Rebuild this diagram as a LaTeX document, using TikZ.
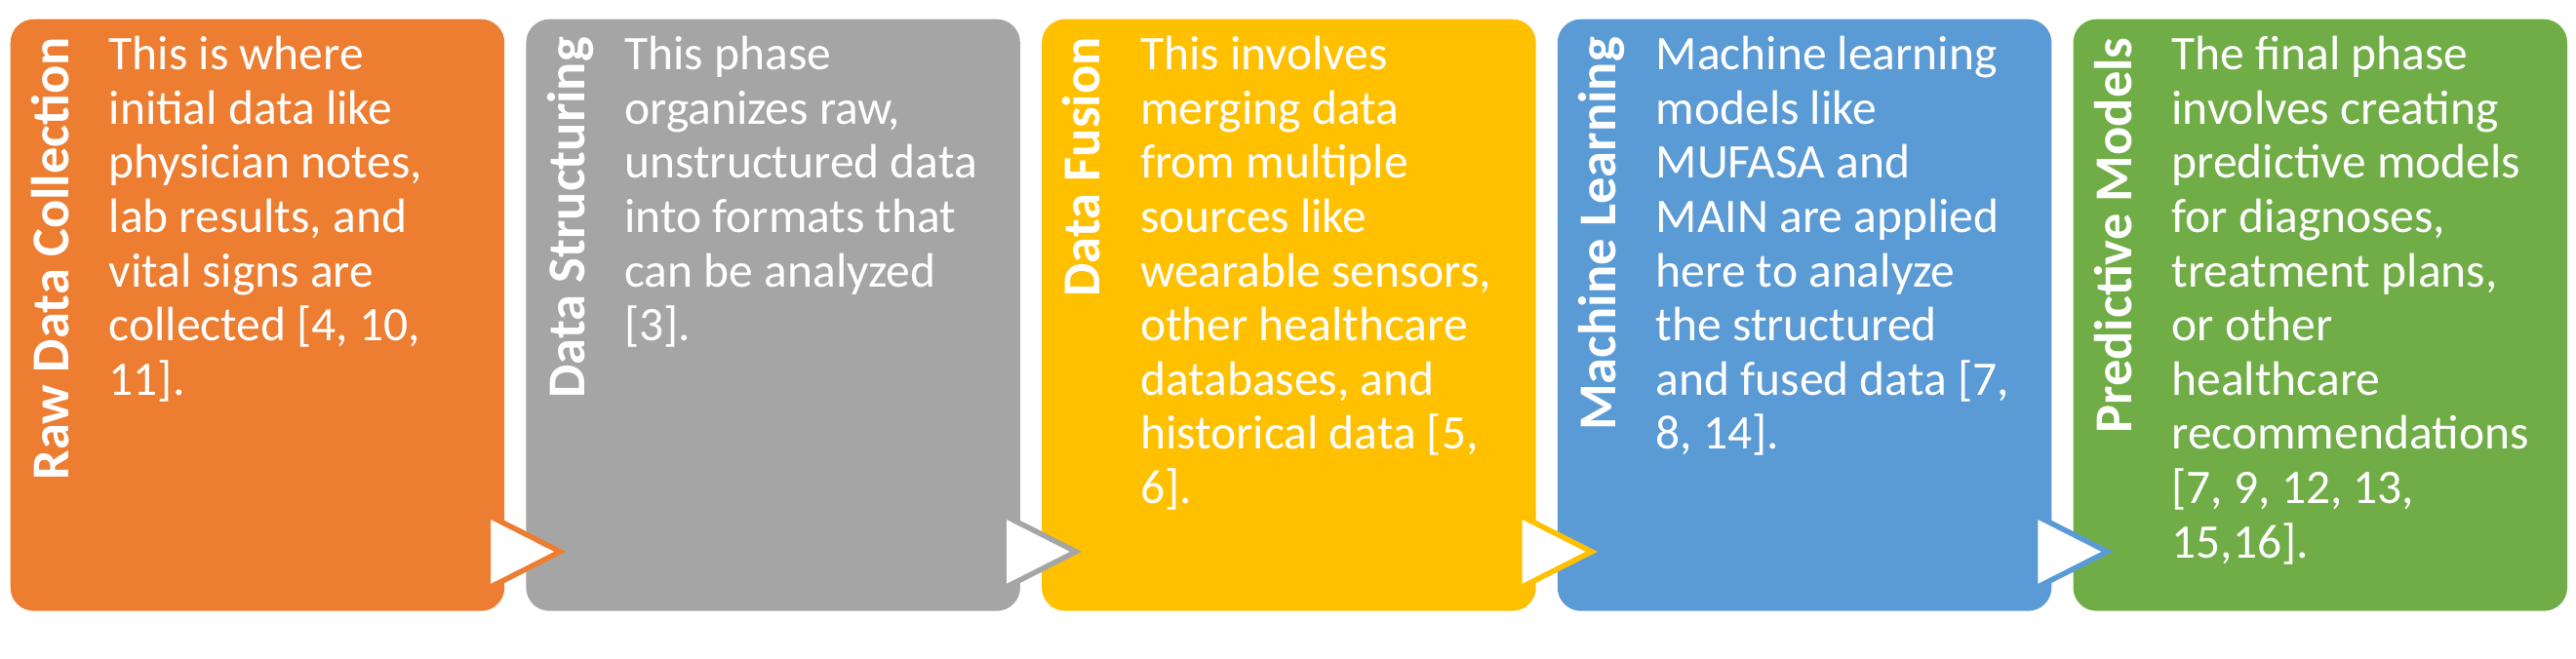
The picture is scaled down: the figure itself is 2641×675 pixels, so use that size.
\documentclass[tikz,border=0pt]{standalone}
\usepackage{fontspec}
\setmainfont{Carlito}
\definecolor{corange}{HTML}{ED7D31}
\definecolor{cgray}{HTML}{A5A5A5}
\definecolor{cyellow}{HTML}{FFC000}
\definecolor{cblue}{HTML}{5B9BD5}
\definecolor{cgreen}{HTML}{70AD47}
\tikzset{
  phasebox/.style={rounded corners=24pt, draw=none, inner sep=0pt, anchor=north west,
    minimum width=506.5pt, minimum height=607pt},
  phasetitle/.style={rotate=90, anchor=base east, inner sep=0pt, text=white,
    font=\fontsize{54.5}{60}\selectfont\bfseries},
  phasebody/.style={anchor=north west, inner sep=0pt, align=left, text=white,
    font=\fontsize{49.5}{55.6}\selectfont},
  arrowtri/.style={fill=white, line width=5.5pt, line join=miter}
}
\newcommand{\bstrut}{\rule{0pt}{40pt}}
\begin{document}
\begin{tikzpicture}[x=1pt,y=-1pt]
\useasboundingbox (0,0) rectangle (2641,675);
% boxes
\node[phasebox, fill=corange] (b1) at (10.5,19.5) {};
\node[phasebox, fill=cgray]   (b2) at (539.2,19.5) {};
\node[phasebox, fill=cyellow] (b3) at (1067.9,19.5) {};
\node[phasebox, fill=cblue]   (b4) at (1596.6,19.5) {};
\node[phasebox, fill=cgreen]  (b5) at (2125.3,19.5) {};
% titles
\node[phasetitle] (t1) at (70.5,38) {Raw Data Collection};
\node[phasetitle] (t2) at (599.2,38) {Data Structuring};
\node[phasetitle] (t3) at (1127.9,38) {Data Fusion};
\node[phasetitle] (t4) at (1656.6,38) {Machine Learning};
\node[phasetitle] (t5) at (2185.3,38) {Predictive Models};
% bodies
\node[phasebody] (d1) at (111.5,31.5) {\bstrut This is where\\initial data like\\physician notes,\\lab results, and\\vital signs are\\collected [4, 10,\\11].};
\node[phasebody] (d2) at (640.2,31.5) {\bstrut This phase\\organizes raw,\\unstructured data\\into formats that\\can be analyzed\\{}[3].};
\node[phasebody] (d3) at (1168.9,31.5) {\bstrut This involves\\merging data\\from multiple\\sources like\\wearable sensors,\\other healthcare\\databases, and\\historical data [5,\\6].};
\node[phasebody] (d4) at (1697.6,31.5) {\bstrut Machine learning\\models like\\MUFASA and\\MAIN are applied\\here to analyze\\the structured\\and fused data [7,\\8, 14].};
\node[phasebody] (d5) at (2226.3,31.5) {\bstrut The final phase\\involves creating\\predictive models\\for diagnoses,\\treatment plans,\\or other\\healthcare\\recommendations\\{}[7, 9, 12, 13,\\15,16].};
% arrow triangles
\foreach \b/\c in {b1/corange, b2/cgray, b3/cyellow, b4/cblue}{
  \draw[arrowtri, draw=\c] ([xshift=-17pt,yshift=98.5pt]\b.south east)
     -- ([xshift=57pt,yshift=61pt]\b.south east)
     -- ([xshift=-17pt,yshift=23.5pt]\b.south east) -- cycle;
}
\end{tikzpicture}
\end{document}
